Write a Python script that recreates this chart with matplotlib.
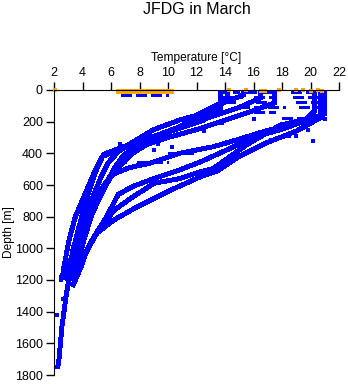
import matplotlib
matplotlib.use("Agg")
import matplotlib.pyplot as plt

plt.rcParams['font.family'] = ['Liberation Sans', 'DejaVu Sans']

title = "JFDG in March"
xlabel = "Temperature [°C]"
ylabel = "Depth [m]"
xticks = [2, 4, 6, 8, 10, 12, 14, 16, 18, 20, 22]
yticks = [0, 200, 400, 600, 800, 1000, 1200, 1400, 1600, 1800]

# Upper family of profiles (temperature, depth)
u1_t = [14.2, 14.2, 13.6, 12.0, 10.6, 8.7, 6.9, 5.5, 5.2, 4.8, 4.1, 3.5, 3.05, 2.7, 2.6]
u1_d = [0, 60, 100, 177, 240, 303, 358, 405, 450, 526, 674, 800, 948, 1116, 1180]
u2_t = [15.3, 15.3, 13.4, 12.0, 10.8, 9.0, 7.5, 6.5, 5.8, 5.3, 4.7, 4.0, 3.5, 3.1, 2.8]
u2_d = [0, 32, 95, 160, 190, 250, 330, 390, 460, 550, 680, 830, 960, 1100, 1200]
u3_t = [16.5, 16.5, 15.0, 13.0, 11.0, 9.0, 7.5, 6.8, 6.2, 5.6, 5.0, 4.3, 3.8, 3.3, 3.0]
u3_d = [0, 50, 110, 170, 230, 300, 370, 420, 500, 600, 720, 850, 990, 1130, 1220]
u4_t = [17.5, 17.5, 16.0, 14.0, 12.0, 10.0, 8.5, 7.5, 6.6, 5.9, 5.2, 4.6, 4.1, 3.75, 3.4]
u4_d = [0, 80, 130, 190, 250, 300, 345, 400, 480, 560, 680, 800, 948, 1074, 1200]

# Lower family of profiles
l1_t = [20.7, 20.7, 18.5, 16.7, 15.0, 13.2, 10.8, 8.7, 7.3, 6.2, 5.5, 4.9, 4.3, 3.8, 3.3, 3.0]
l1_d = [0, 177, 220, 263, 310, 358, 400, 463, 490, 530, 600, 700, 830, 960, 1100, 1200]
l2_t = [20.3, 20.3, 19.5, 17.9, 16.0, 14.4, 12.3, 10.8, 9.0, 7.5, 6.5, 5.7, 4.8, 4.3, 3.9, 3.3]
l2_d = [0, 130, 200, 250, 300, 367, 453, 505, 560, 610, 660, 800, 927, 1011, 1116, 1242]
l3_t = [21.0, 21.0, 20.2, 17.9, 15.5, 13.2, 12.3, 10.8, 9.0, 7.3, 6.2, 5.0, 4.4, 3.9, 3.5]
l3_d = [0, 150, 175, 221, 347, 495, 516, 560, 589, 690, 760, 905, 1000, 1100, 1200]
l4_t = [20.8, 20.8, 19.0, 17.0, 15.0, 13.5, 12.3, 10.2, 7.85, 6.2, 5.0, 4.3, 3.9, 3.3]
l4_d = [0, 170, 260, 330, 420, 510, 547, 632, 737, 821, 905, 1011, 1116, 1242]

# Deep profile
deep_t = [13.7, 13.7, 12.5, 10.0, 8.0, 6.3, 5.4, 4.9, 4.3, 3.8, 3.3, 3.0, 2.85, 2.7, 2.55, 2.45, 2.35, 2.25]
deep_d = [0, 120, 190, 265, 325, 385, 420, 520, 680, 850, 1020, 1220, 1300, 1400, 1500, 1600, 1700, 1760]

# Surface-layer dashes (start temperature, end temperature, depth)
dash_t0 = [13.5, 15.5, 18.6, 13.8, 16.0, 18.8, 14.0, 16.2, 19.0, 15.0, 17.0, 19.2, 16.0, 18.0, 7.8, 10.0, 6.7]
dash_t1 = [15.0, 17.5, 21.0, 15.2, 17.6, 21.0, 15.0, 17.5, 21.0, 16.2, 18.2, 21.0, 17.5, 20.0, 10.0, 12.0, 10.0]
dash_d = [15, 15, 15, 45, 45, 45, 75, 75, 75, 105, 105, 105, 140, 175, 453, 400, 30]

# Scattered blue points
pt_t = [6.6, 7.2, 8.0, 9.3, 7.0, 9.0, 10.3, 12.5, 13.8, 16.0, 18.5, 19.8, 20.2, 21.0, 17.2, 19.0, 2.5, 2.2, 2.6, 2.5]
pt_d = [340, 375, 330, 340, 455, 380, 360, 260, 210, 180, 290, 250, 325, 180, 315, 290, 1180, 1420, 1320, 1200]

# Orange surface points
or_t = [2.1, 6.5, 7.0, 7.5, 8.0, 8.5, 9.0, 9.5, 10.0, 10.2, 14.3, 15.5, 16.5, 16.8, 17.8, 19.0, 19.5, 20.0, 20.5, 20.8]
or_d = [0, 5, 5, 5, 5, 5, 5, 5, 5, 5, 0, 0, 5, 5, 0, 0, 0, 5, 0, 5]

profiles = [(u1_t, u1_d), (u2_t, u2_d), (u3_t, u3_d), (u4_t, u4_d),
            (l1_t, l1_d), (l2_t, l2_d), (l3_t, l3_d), (l4_t, l4_d),
            (deep_t, deep_d)]

blue = "#0000FF"
orange = "#FFA500"

fig = plt.figure(figsize=(3.48, 3.84), dpi=100)
ax = fig.add_axes([54 / 348, 1 - 375 / 384, 285 / 348, 285 / 384])

for t, d in profiles:
    ax.plot(t, d, color=blue, lw=2.8, solid_capstyle='butt', antialiased=False, clip_on=False)

for t0, t1, d in zip(dash_t0, dash_t1, dash_d):
    ax.plot([t0, t1], [d, d], color=blue, lw=2.5, ls=(0, (3, 1.2)), antialiased=False, clip_on=False)

ax.scatter(pt_t, pt_d, s=5, marker='s', color=blue, lw=0, clip_on=False)
ax.plot(or_t, or_d, ls='none', marker='s', ms=3.5, mew=0, color=orange, clip_on=False)
ax.plot([6.5, 10.2], [5, 5], color=orange, lw=3.5, antialiased=False, clip_on=False)

ax.set_xlim(2, 22)
ax.set_ylim(1800, 0)
ax.set_xticks(xticks)
ax.set_yticks(yticks)
ax.xaxis.tick_top()
ax.xaxis.set_label_position('top')
ax.spines['right'].set_visible(False)
ax.spines['bottom'].set_visible(False)
ax.tick_params(axis='both', direction='out', length=6, width=1, labelsize=9, pad=2)
ax.set_xlabel(xlabel, fontsize=8.6, labelpad=4)
fig.text(9 / 348, 1 - 232 / 384, ylabel, rotation=90, ha='center', va='center', fontsize=8.6)
fig.text(197 / 348, 1 - 9 / 384, title, ha='center', va='center', fontsize=11.5)

fig.savefig("out.png", dpi=100)
